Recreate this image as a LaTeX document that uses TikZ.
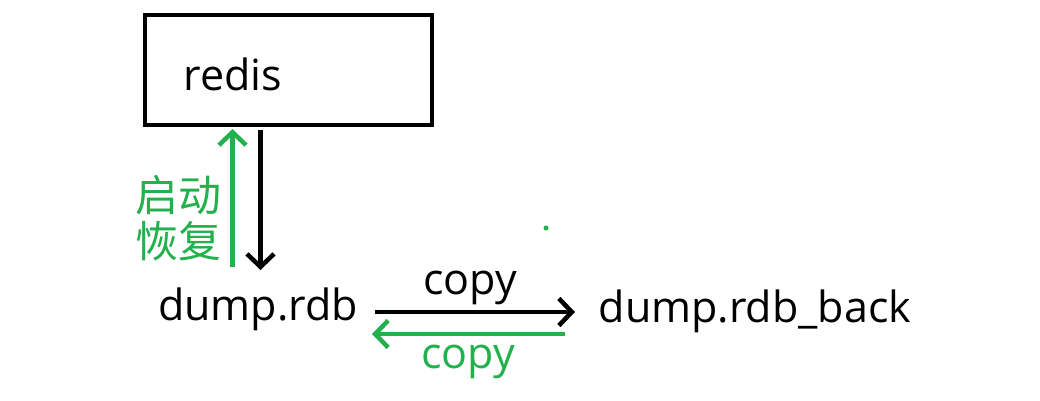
\documentclass[tikz,border=0pt]{standalone}
\usepackage{fontspec}
\setmainfont{Open Sans}
\newfontfamily\cjk{Noto Sans CJK SC}
\usetikzlibrary{shapes}
\usetikzlibrary{arrows.meta}
\tikzstyle{every picture}+=[font=\fontsize{43}{50}\selectfont]
\tikzstyle{kasten}=[draw, line width=4pt, minimum width=287pt, minimum height=110pt, inner sep=0pt]
\tikzstyle{pfeil}=[line width=4.5pt, -{Straight Barb[length=13pt,width=27pt,line width=4.5pt]}]

\begin{document}
\begin{tikzpicture}[x=1pt, y=-1pt]

\definecolor{paintgruen}{HTML}{22B14C}
\useasboundingbox (0,0) rectangle (1040,400);
%%
\node[kasten] (redis) at (288.5,70) {};
\node (redislbl) at (233,74) {redis};

\node (dump) at (258,309) {dump.rdb};
\node (back) at (755,311) {dump.rdb\_back};

%% restore / save
\coordinate (up1) at ([xshift=-56pt, yshift=-140pt]redis.south);
\coordinate (up2) at ([xshift=-56pt, yshift=-2pt]redis.south);
\coordinate (dn1) at ([xshift=-28pt, yshift=-3pt]redis.south);
\coordinate (dn2) at ([xshift=-28pt, yshift=-143pt]redis.south);
\draw[pfeil, color=paintgruen] (up1) -- (up2);
\draw[pfeil] (dn1) -- (dn2);
\node[color=paintgruen, align=center, font=\cjk\fontsize{43}{46}\selectfont] (start) at (178,218) {启动\\恢复};

%% copy
\coordinate (c1) at (375,312);
\coordinate (c2) at (575,312);
\coordinate (g1) at (565,334);
\coordinate (g2) at (372,334);
\draw[pfeil] (c1) -- (c2);
\draw[pfeil, color=paintgruen] (g1) -- (g2);
\node (copy1) at (470,288) {copy};
\node[color=paintgruen] (copy2) at (468,362) {copy};

\fill[paintgruen] (546,228) circle (2.5pt);

\end{tikzpicture}
\end{document}
